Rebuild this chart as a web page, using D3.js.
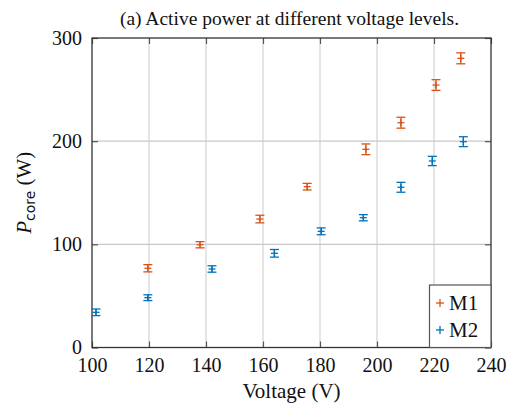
<!DOCTYPE html>
<html><head><meta charset="utf-8">
<script src="https://cdn.jsdelivr.net/npm/d3@7"></script>
<style>
body{margin:0;background:#fff}svg{display:block}
svg text{font-family:"Liberation Serif","Times New Roman",Tinos,Times,"DejaVu Serif",serif;}</style>
</head><body><svg id="c" width="518" height="404"></svg>
<script>
const titleText = "(a) Active power at different voltage levels.";
const xTicks = [100,120,140,160,180,200,220,240];
const yTicks = [0,100,200,300];
const m1V = [119.6,137.9,158.9,175.5,196.1,208.4,220.7,229.4];
const m1P = [76.8,99.6,124.5,155.9,192.1,217.9,254.4,280.3];
const m1E = [3.5,3.0,3.7,3.2,5.2,5.3,5.2,5.3];
const m2V = [101.4,119.6,142.1,164.0,180.4,195.2,208.4,219.4,230.3];
const m2P = [34.1,48.3,76.1,91.3,112.6,125.8,155.3,180.8,199.5];
const m2E = [3.2,2.8,3.1,3.7,3.3,3.0,4.8,4.5,4.8];
const seriesNames = ["M1","M2"];
const colors = ["#D95319","#0072BD"];

const svg = d3.select("#c");
const L=92,R=491,T=38,B=347.5;
const x = d3.scaleLinear().domain([100,240]).range([L,R]);
const y = d3.scaleLinear().domain([0,300]).range([B,T]);

// grid
const g = svg.append("g");
g.selectAll(".gx").data(xTicks.slice(1,-1)).join("line")
 .attr("x1",d=>x(d)).attr("x2",d=>x(d)).attr("y1",T).attr("y2",B)
 .attr("stroke","#d4d4d4").attr("stroke-width",1.2);
g.selectAll(".gy").data(yTicks.slice(1,-1)).join("line")
 .attr("y1",d=>y(d)).attr("y2",d=>y(d)).attr("x1",L).attr("x2",R)
 .attr("stroke","#c8c8c8").attr("stroke-width",1.2);

// axes with inward ticks
const ax = svg.append("g").attr("transform",`translate(0,${B})`)
 .call(d3.axisBottom(x).tickValues(xTicks).tickSize(-6).tickPadding(10).tickFormat(d3.format("d")));
const axT = svg.append("g").attr("transform",`translate(0,${T})`)
 .call(d3.axisTop(x).tickValues(xTicks).tickSize(-6).tickFormat(""));
const ay = svg.append("g").attr("transform",`translate(${L},0)`)
 .call(d3.axisLeft(y).tickValues(yTicks).tickSize(-6).tickPadding(10).tickFormat(d3.format("d")));
const ayR = svg.append("g").attr("transform",`translate(${R},0)`)
 .call(d3.axisRight(y).tickValues(yTicks).tickSize(-6).tickFormat(""));
[ax,axT,ay,ayR].forEach(a=>{
  a.attr("font-family",null);
  a.select(".domain").remove();
  a.selectAll(".tick line").attr("stroke","#555").attr("stroke-width",1.2);
  a.selectAll("text").attr("font-size",20).attr("fill","#111");
});
ay.selectAll("text").attr("dy","0.3em");
ax.selectAll("text").attr("dy","0.72em");

// frame
svg.append("rect").attr("x",L).attr("y",T).attr("width",R-L).attr("height",B-T)
 .attr("fill","none").attr("stroke","#333").attr("stroke-width",1.3);

// data
function drawSeries(V,P,E,col){
  const s = svg.append("g").attr("stroke",col).attr("stroke-width",1.3).attr("fill","none");
  V.forEach((v,i)=>{
    const cx=x(v), cy=y(P[i]), yt=y(P[i]+E[i]), yb=y(P[i]-E[i]);
    s.append("line").attr("x1",cx).attr("x2",cx).attr("y1",yt).attr("y2",yb);
    s.append("line").attr("x1",cx-4.5).attr("x2",cx+4.5).attr("y1",yt).attr("y2",yt);
    s.append("line").attr("x1",cx-4.5).attr("x2",cx+4.5).attr("y1",yb).attr("y2",yb);
    s.append("line").attr("x1",cx-3.5).attr("x2",cx+3.5).attr("y1",cy).attr("y2",cy);
    s.append("line").attr("x1",cx).attr("x2",cx).attr("y1",cy-3.5).attr("y2",cy+3.5);
  });
}
drawSeries(m1V,m1P,m1E,colors[0]);
drawSeries(m2V,m2P,m2E,colors[1]);

// title
svg.append("text").attr("x",(L+R)/2-2).attr("y",25).attr("text-anchor","middle")
 .attr("font-size",19.5).attr("fill","#111").text(titleText);

// axis labels
svg.append("text").attr("x",(L+R)/2).attr("y",398).attr("text-anchor","middle")
 .attr("font-size",21).attr("fill","#111").text("Voltage (V)");
const yl = svg.append("text").attr("transform",`translate(31,${(T+B)/2}) rotate(-90)`)
 .attr("text-anchor","middle").attr("font-size",21).attr("fill","#111");
yl.append("tspan").attr("font-style","italic").text("P");
yl.append("tspan").style("font-family","'DejaVu Sans',sans-serif").attr("font-size",14).attr("dy",4).text("core");
yl.append("tspan").attr("dy",-4).text(" (W)");

// legend
const lg = svg.append("g");
lg.append("rect").attr("x",429.5).attr("y",285).attr("width",61.5).attr("height",B-285)
 .attr("fill","#fff").attr("stroke","#555").attr("stroke-width",1.2);
seriesNames.forEach((n,i)=>{
  const ly = 303 + i*27;
  lg.append("line").attr("x1",436).attr("x2",444).attr("y1",ly).attr("y2",ly).attr("stroke",colors[i]).attr("stroke-width",1.3);
  lg.append("line").attr("x1",440).attr("x2",440).attr("y1",ly-4).attr("y2",ly+4).attr("stroke",colors[i]).attr("stroke-width",1.3);
  lg.append("text").attr("x",449).attr("y",ly+7).attr("font-size",21).attr("fill","#111").text(n);
});
</script></body></html>
